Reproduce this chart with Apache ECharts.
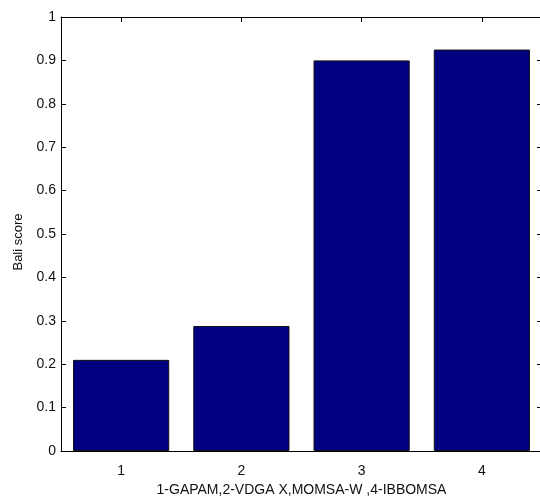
<!DOCTYPE html>
<html>
<head>
<meta charset="utf-8">
<script src="https://cdn.jsdelivr.net/npm/echarts@6/dist/echarts.min.js"></script>
<style>html,body{margin:0;padding:0;background:#fff;}#c{width:540px;height:496px;}</style>
</head>
<body>
<div id="c"></div>
<script>
const categories = ['1', '2', '3', '4'];
const baliScores = [0.21, 0.288, 0.90, 0.925];
const xTitle = '1-GAPAM,2-VDGA X,MOMSA-W ,4-IBBOMSA';
const yTitle = 'Bali score';

const font = 'Liberation Sans, Arial, sans-serif';
const chart = echarts.init(document.getElementById('c'), null, {renderer: 'canvas'});
const axisLine = {show: true, onZero: false, lineStyle: {color: '#000', width: 1}};
chart.setOption({
  animation: false,
  grid: {left: 61, top: 17, width: 481, height: 434, containLabel: false, outerBoundsMode: 'none'},
  xAxis: [{
    type: 'category', data: categories, position: 'bottom',
    axisLine: axisLine,
    axisTick: {show: true, inside: true, alignWithLabel: true, length: 5, lineStyle: {color: '#000'}},
    axisLabel: {color: '#111', fontFamily: font, fontSize: 14, margin: 13},
    name: xTitle, nameLocation: 'middle', nameGap: 30,
    nameTextStyle: {color: '#111', fontFamily: font, fontSize: 14},
    splitLine: {show: false}
  }, {
    type: 'category', data: categories, position: 'top',
    axisLine: axisLine,
    axisTick: {show: true, inside: true, alignWithLabel: true, length: 5, lineStyle: {color: '#000'}},
    axisLabel: {show: false}, splitLine: {show: false}
  }],
  yAxis: [{
    type: 'value', min: 0, max: 1, interval: 0.1, position: 'left',
    axisLine: axisLine,
    axisTick: {show: true, inside: true, length: 5, lineStyle: {color: '#000'}},
    axisLabel: {color: '#111', fontFamily: font, fontSize: 14, margin: 5},
    name: yTitle, nameLocation: 'middle', nameGap: 36,
    nameTextStyle: {color: '#111', fontFamily: font, fontSize: 13, padding: [0, 16, 0, 0]},
    splitLine: {show: false}
  }, {
    type: 'value', min: 0, max: 1, interval: 0.1, position: 'right',
    axisLine: axisLine,
    axisTick: {show: true, inside: true, length: 5, lineStyle: {color: '#000'}},
    axisLabel: {show: false}, splitLine: {show: false}
  }],
  series: [{
    type: 'bar', data: baliScores, xAxisIndex: 0, yAxisIndex: 0,
    barWidth: '80%',
    itemStyle: {color: '#000080', borderColor: '#111', borderWidth: 1}
  }]
});
</script>
</body>
</html>
